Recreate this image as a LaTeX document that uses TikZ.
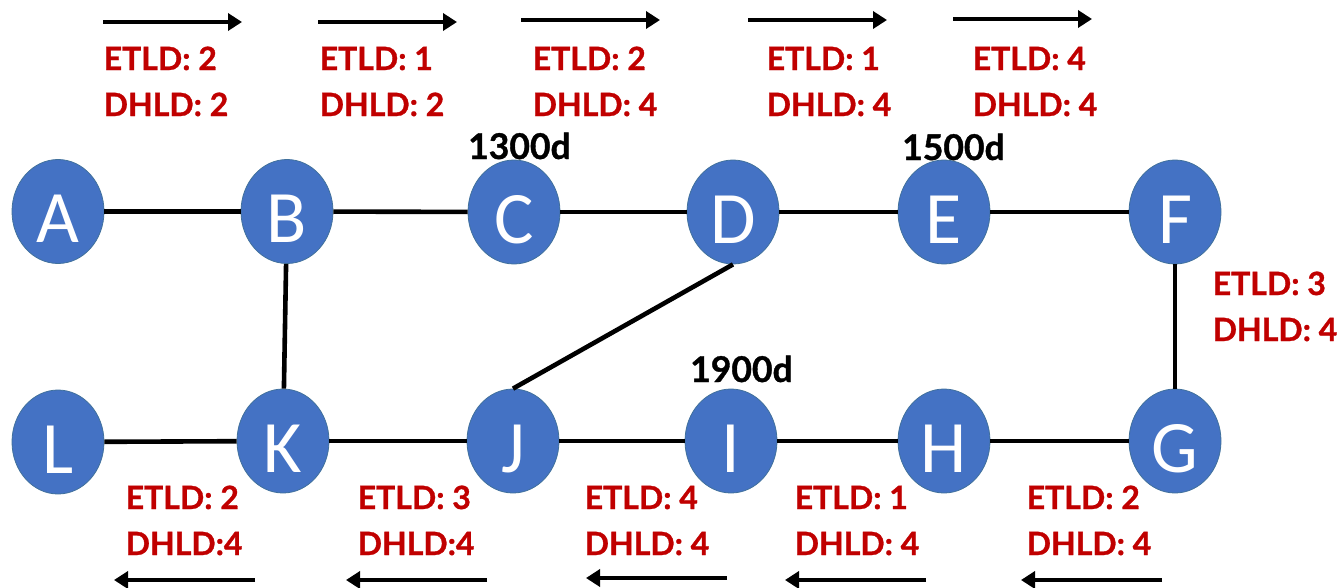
\documentclass[tikz,border=0pt]{standalone}
\usepackage{fontspec}
\usetikzlibrary{shapes.geometric,arrows.meta}
\newfontfamily\latofont[BoldFeatures={FakeBold=1}]{Lato}
\newfontfamily\carlfont{Carlito}
\definecolor{nodeblue}{HTML}{4472C4}
\definecolor{nodeedge}{HTML}{41719C}
\definecolor{lblred}{HTML}{C00000}
\tikzset{
  vtx/.style={ellipse, minimum width=92pt, minimum height=104pt, inner sep=0pt,
    fill=nodeblue, draw=nodeedge, line width=0.8pt, text=white,
    font=\carlfont\fontsize{74}{80}\selectfont, text height=62pt, text depth=0pt},
  link/.style={line width=4.6pt, black},
  dirarrow/.style={line width=4.4pt, black, -{Triangle[length=14pt,width=17pt]}},
  lbl/.style={text=lblred, font=\latofont\bfseries\fontsize{32}{45}\selectfont,
    inner sep=0pt, anchor=base west},
  dist/.style={text=black, font=\latofont\bfseries\fontsize{35.5}{40}\selectfont,
    inner sep=0pt, anchor=base west}
}
\newcommand{\twolines}[2]{\vtop{\baselineskip=46pt\hbox{#1}\hbox{#2}}}
\begin{document}
\begin{tikzpicture}[x=1pt,y=-1pt]
\useasboundingbox (0,0) rectangle (1342,587);
% nodes top row
\node[vtx] (A) at (58,211.5) {A};
\node[vtx] (B) at (287,211.5) {B};
\node[vtx] (C) at (514,212) {C};
\node[vtx] (D) at (733,212) {D};
\node[vtx] (E) at (944,212) {E};
\node[vtx] (F) at (1175,212) {F};
% bottom row
\node[vtx] (L) at (58,442) {L};
\node[vtx] (K) at (283,441) {K};
\node[vtx] (J) at (513,441) {J};
\node[vtx] (I) at (731,441) {I};
\node[vtx] (H) at (944,441) {H};
\node[vtx] (G) at (1175,441) {G};
% links
\draw[link] (A) -- (B);
\draw[link] (B) -- (C);
\draw[link] (C) -- (D);
\draw[link] (D) -- (E);
\draw[link] (E) -- (F);
\draw[link] (L) -- (K);
\draw[link] (K) -- (J);
\draw[link] (J) -- (I);
\draw[link] (I) -- (H);
\draw[link] (H) -- (G);
\draw[link] (B) -- (K);
\draw[link] (F) -- (G);
\draw[link] (D.south) -- (J.north);
% top arrows
\coordinate (ta1s) at (103,22); \coordinate (ta1e) at (242,22);
\coordinate (ta2s) at (318,22); \coordinate (ta2e) at (457,22);
\coordinate (ta3s) at (521,20); \coordinate (ta3e) at (660,20);
\coordinate (ta4s) at (748,20); \coordinate (ta4e) at (887,20);
\coordinate (ta5s) at (953,19); \coordinate (ta5e) at (1092,19);
\draw[dirarrow] (ta1s) -- (ta1e);
\draw[dirarrow] (ta2s) -- (ta2e);
\draw[dirarrow] (ta3s) -- (ta3e);
\draw[dirarrow] (ta4s) -- (ta4e);
\draw[dirarrow] (ta5s) -- (ta5e);
% bottom arrows
\coordinate (ba1s) at (255,580); \coordinate (ba1e) at (114,580);
\coordinate (ba2s) at (487,580); \coordinate (ba2e) at (346,580);
\coordinate (ba3s) at (727,578); \coordinate (ba3e) at (586,578);
\coordinate (ba4s) at (926,580); \coordinate (ba4e) at (785,580);
\coordinate (ba5s) at (1162,580); \coordinate (ba5e) at (1021,580);
\draw[dirarrow] (ba1s) -- (ba1e);
\draw[dirarrow] (ba2s) -- (ba2e);
\draw[dirarrow] (ba3s) -- (ba3e);
\draw[dirarrow] (ba4s) -- (ba4e);
\draw[dirarrow] (ba5s) -- (ba5e);
% top labels
\node[lbl] (t1) at (103.5,70) {\twolines{ETLD: 2}{DHLD: 2}};
\node[lbl] (t2) at (319.5,70) {\twolines{ETLD: 1}{DHLD: 2}};
\node[lbl] (t3) at (532.5,70) {\twolines{ETLD: 2}{DHLD: 4}};
\node[lbl] (t4) at (766.5,70) {\twolines{ETLD: 1}{DHLD: 4}};
\node[lbl] (t5) at (972.5,70) {\twolines{ETLD: 4}{DHLD: 4}};
% right label
\node[lbl] (r1) at (1212.5,295) {\twolines{ETLD: 3}{DHLD: 4}};
% bottom labels
\node[lbl] (b1) at (125.5,509) {\twolines{ETLD: 2}{DHLD:4}};
\node[lbl] (b2) at (357.5,509) {\twolines{ETLD: 3}{DHLD:4}};
\node[lbl] (b3) at (584.5,509) {\twolines{ETLD: 4}{DHLD: 4}};
\node[lbl] (b4) at (794.5,509) {\twolines{ETLD: 1}{DHLD: 4}};
\node[lbl] (b5) at (1026.5,509) {\twolines{ETLD: 2}{DHLD: 4}};
% distances
\node[dist] (d1) at (468,159) {1300d};
\node[dist] (d2) at (902,160) {1500d};
\node[dist] (d3) at (690,382) {1900d};
\end{tikzpicture}
\end{document}
